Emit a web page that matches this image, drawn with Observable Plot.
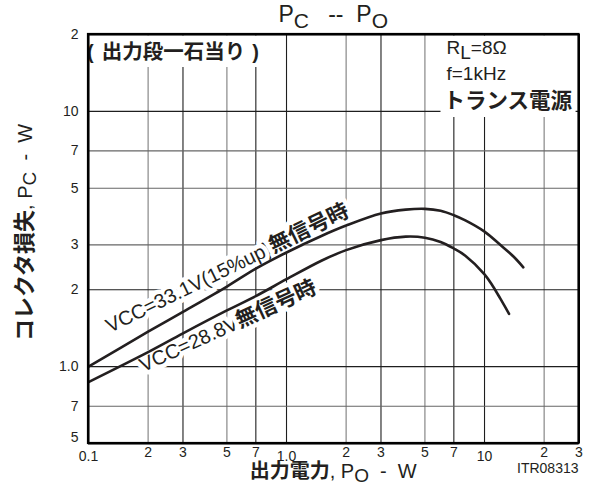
<!DOCTYPE html>
<html><head><meta charset="utf-8">
<script src="https://cdn.jsdelivr.net/npm/d3@7"></script>
<script src="https://cdn.jsdelivr.net/npm/@observablehq/plot@0.6"></script>
<style>html,body{margin:0;background:#fff;overflow:hidden}svg{display:block}</style>
</head><body><div id="chart"></div>
<script>
// ---- data ----
const poUpper = [0.1,0.2,0.3,0.5,0.7,1,1.5,2,3,4,5,6,7,8,10,12,14,15.7];
const pcUpper = [1.0,1.37,1.64,2.06,2.42,2.8,3.25,3.57,3.98,4.12,4.15,4.08,3.92,3.74,3.38,3.0,2.7,2.45];
const poLower = [0.1,0.2,0.3,0.5,0.7,1,1.5,2,3,4,5,6,7,8,10,11,12,13.3];
const pcLower = [0.87,1.14,1.35,1.66,1.89,2.2,2.6,2.86,3.13,3.23,3.2,3.08,2.9,2.72,2.3,2.07,1.85,1.61];
const seriesNames = ["VCC=33.1V(15%up)", "VCC=28.8V"];
const xDomain = [0.1, 30];
const yDomain = [0.5, 20];
const xTicks = [0.1,0.2,0.3,0.5,0.7,1,2,3,5,7,10,20,30];
const xTickLabels = ["0.1","2","3","5","7","1.0","2","3","5","7","10","2","3"];
const xDecades = [0.1,1,10];
const yTicks = [0.5,0.7,1,2,3,5,7,10,20];
const yTickLabels = ["5","7","1.0","2","3","5","7","10","2"];
const xGridDark = [0.3,0.7,1,3,7,10];
const xGridLight = [0.2,0.5,2,5,20];
const yGridDark = [1,2,10];
const yGridLight = [0.7,3,5,7];
const labelAnchors = [{x:0.129, y:1.347}, {x:0.19, y:0.947}];

// ---- build ----
(function(){
const LAT = "Liberation Sans, Arial, Helvetica, sans-serif";
const JP = "Noto Sans CJK JP, Noto Sans CJK SC, sans-serif";
const INK = "#231f20";
const upper = poUpper.map((x,i)=>({x, y:pcUpper[i]}));
const lower = poLower.map((x,i)=>({x, y:pcLower[i]}));
const xt = xTicks.map((v,i)=>({v, label:xTickLabels[i], decade: xDecades.includes(v)}));
const yt = yTicks.map((v,i)=>({v, label:yTickLabels[i]}));
const yMin = yTicks[0];
const tick = {fontSize: 14, fill: INK, fontFamily: LAT};

const plot = Plot.plot({
  width: 612, height: 490,
  marginLeft: 88, marginRight: 33.5, marginTop: 34, marginBottom: 47,
  x: {type: "log", domain: xDomain, axis: null},
  y: {type: "log", domain: yDomain, axis: null},
  marks: [
    Plot.ruleX(xGridLight, {stroke: "#7d7d7d", strokeWidth: 1.1}),
    Plot.ruleX(xGridDark, {stroke: "#1e1e1e", strokeWidth: 1.1}),
    Plot.ruleY(yGridLight, {stroke: "#666", strokeWidth: 1.1}),
    Plot.ruleY(yGridDark, {stroke: "#1e1e1e", strokeWidth: 1.1}),
    Plot.text(xt.filter(d=>!d.decade), {x:"v", text:"label", frameAnchor:"bottom", dy: 13, ...tick}),
    Plot.text(xt.filter(d=>d.decade), {x:"v", text:"label", frameAnchor:"bottom", dy: 17, ...tick}),
    Plot.text(yt.filter(d=>d.v!==yMin), {y:"v", text:"label", frameAnchor:"left", dx: -10, textAnchor:"end", ...tick}),
    Plot.text(yt.filter(d=>d.v===yMin), {y:"v", text:"label", frameAnchor:"left", dx: -10, dy: -6, textAnchor:"end", ...tick}),
    Plot.line(upper, {x:"x", y:"y", curve:"catmull-rom", stroke: INK, strokeWidth: 2.6}),
    Plot.line(lower, {x:"x", y:"y", curve:"catmull-rom", stroke: INK, strokeWidth: 2.6}),
    Plot.ruleX(xDomain, {stroke: "#000", strokeWidth: 2}),
    Plot.ruleY(yDomain, {stroke: "#000", strokeWidth: 2})
  ]
});
document.getElementById("chart").append(plot);

// ---- annotations (rich text) ----
const svg = d3.select(plot);
const xs = plot.scale("x"), ys = plot.scale("y");
const fx0 = Math.min(...xs.range), fx1 = Math.max(...xs.range);
const fy0 = Math.min(...ys.range), fy1 = Math.max(...ys.range);
const cx = (fx0 + fx1) / 2;
const layer = svg.insert("g", 'g[aria-label="line"]');
const over = svg.append("g");

function rich(parent, parts, {x, y, anchor="start", rotate=0, halo=0}) {
  const t = parent.append("text")
    .attr("transform", `translate(${x},${y}) rotate(${rotate})`)
    .attr("text-anchor", anchor).attr("fill", INK);
  if (halo) t.attr("stroke", "white").attr("stroke-width", halo)
    .attr("stroke-linejoin", "round").attr("paint-order", "stroke");
  let shift = 0;
  for (const p of parts) {
    const ts = t.append("tspan").text(p.t)
      .attr("font-size", p.size)
      .attr("font-weight", p.bold ? "bold" : "normal")
      .attr("font-family", p.jp ? JP : LAT);
    const target = p.sub || 0;
    if (target !== shift) { ts.attr("dy", target - shift); shift = target; }
    if (p.dx) ts.attr("dx", p.dx);
  }
  return t;
}
function backBox(g, nodes, pad) {
  let x0=Infinity,y0=Infinity,x1=-Infinity,y1=-Infinity;
  for (const n of nodes) {
    const b = n.getBBox();
    const tm = g.node().getCTM().inverse().multiply(n.getCTM());
    for (const [px,py] of [[b.x,b.y],[b.x+b.width,b.y],[b.x,b.y+b.height],[b.x+b.width,b.y+b.height]]) {
      const X = tm.a*px + tm.c*py + tm.e, Y = tm.b*px + tm.d*py + tm.f;
      x0=Math.min(x0,X); y0=Math.min(y0,Y); x1=Math.max(x1,X); y1=Math.max(y1,Y);
    }
  }
  x0=Math.max(fx0+1.5, x0-pad); x1=Math.min(fx1-1.5, x1+pad);
  y0=Math.max(fy0+1.5, y0-pad); y1=Math.min(fy1-1.5, y1+pad);
  if ([x0,x1,y0,y1].every(Number.isFinite) && x1>x0 && y1>y0)
    g.insert("rect", ":first-child").attr("x",x0).attr("y",y0).attr("width",x1-x0).attr("height",y1-y0).attr("fill","white");
}

// title
rich(over, [{t:"P",size:23},{t:"C",size:21,sub:6},{t:"\u00a0\u00a0\u00a0--\u00a0\u00a0",size:23},{t:"P",size:23},{t:"O",size:21,sub:6}], {x: cx, y: 22, anchor: "middle"});
// axis titles
rich(over, [{t:"コレクタ損失",jp:1,bold:1,size:22},{t:", P",size:20},{t:"C",size:19,sub:4},{t:"\u00a0\u00a0-\u00a0\u00a0W",size:20}], {x: 32, y: (fy0+fy1)/2 - 6, anchor: "middle", rotate: -90});
rich(over, [{t:"出力電力",jp:1,bold:1,size:20},{t:", P",size:20},{t:"O",size:19,sub:4},{t:"\u00a0\u00a0-\u00a0\u00a0W",size:20}], {x: cx, y: fy1 + 35, anchor: "middle"});
rich(over, [{t:"ITR08313",size:14}], {x: fx1, y: fy1 + 30, anchor: "end"});

// top-left note
const gL = layer.append("g");
const tl = rich(gL, [{t:"(",size:20,bold:1},{t:"出力段一石当り",jp:1,bold:1,size:20.5,dx:8},{t:")",size:20,bold:1,dx:7}], {x: fx0 - 1, y: fy0 + 25});
backBox(gL, [tl.node()], 2);
// top-right note
const gR = layer.append("g");
const r1 = rich(gR, [{t:"R",size:19},{t:"L",size:19,sub:5},{t:"=8Ω",size:19}], {x: fx1 - 132, y: fy0 + 20});
const r2 = rich(gR, [{t:"f=1kHz",size:19}], {x: fx1 - 132, y: fy0 + 46});
const r3 = rich(gR, [{t:"トランス電源",jp:1,bold:1,size:21.5}], {x: fx1 - 135, y: fy0 + 74});
backBox(gR, [r1.node(), r2.node(), r3.node()], 3);

// curve labels
const rots = [-26, -24.5];
labelAnchors.forEach((a, i) => {
  rich(layer, [{t: seriesNames[i], size: 20}, {t:"無信号時", jp:1, bold:1, size:21.5}],
    {x: xs.apply(a.x), y: ys.apply(a.y), rotate: rots[i], halo: 9});
});

// frame on top (from the scale ranges)
svg.append("rect").attr("x", fx0).attr("y", fy0).attr("width", fx1 - fx0).attr("height", fy1 - fy0)
  .attr("fill", "none").attr("stroke", "#000").attr("stroke-width", 2.2);
})();
</script></body></html>
